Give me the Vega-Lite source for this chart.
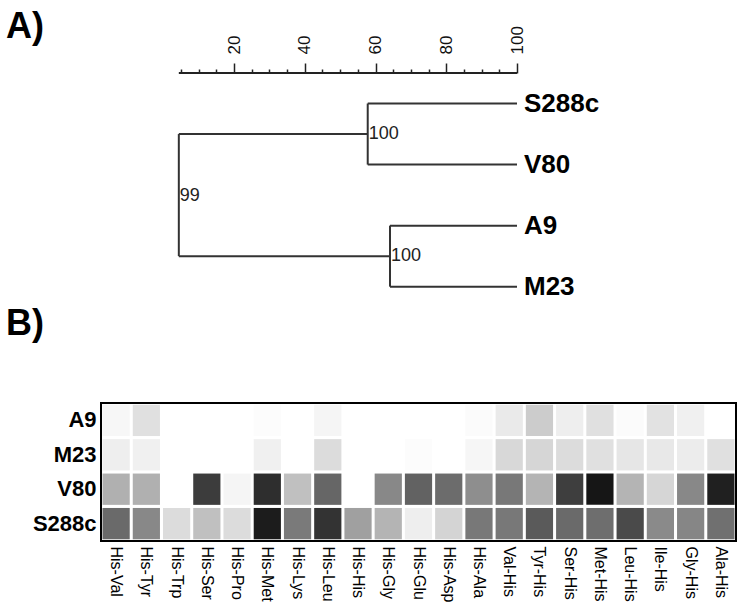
{
  "$schema": "https://vega.github.io/schema/vega-lite/v6.json",
  "background": "white",
  "padding": {"left": 5, "top": 8, "right": 5, "bottom": 5},
  "config": {"font": "Liberation Sans", "view": {"stroke": null}},
  "datasets": {
    "branches": [
      {"x": 4.4, "x2": 4.4, "y": 1.5, "y2": 3.5},
      {"x": 4.4, "x2": 57.8, "y": 1.5, "y2": 1.5},
      {"x": 4.4, "x2": 64.1, "y": 3.5, "y2": 3.5},
      {"x": 57.8, "x2": 57.8, "y": 1, "y2": 2},
      {"x": 57.8, "x2": 100, "y": 1, "y2": 1},
      {"x": 57.8, "x2": 100, "y": 2, "y2": 2},
      {"x": 64.1, "x2": 64.1, "y": 3, "y2": 4},
      {"x": 64.1, "x2": 100, "y": 3, "y2": 3},
      {"x": 64.1, "x2": 100, "y": 4, "y2": 4}
    ],
    "nodes": [
      {"label": "100", "x": 57.8, "y": 1.5},
      {"label": "99", "x": 4.4, "y": 2.52},
      {"label": "100", "x": 64.1, "y": 3.5}
    ],
    "leaves": [
      {"name": "S288c", "y": 1},
      {"name": "V80", "y": 2},
      {"name": "A9", "y": 3},
      {"name": "M23", "y": 4}
    ],
    "heat": [
      {"strain": "A9", "pair": "His-Val", "value": 8},
      {"strain": "A9", "pair": "His-Tyr", "value": 31},
      {"strain": "A9", "pair": "His-Trp", "value": 0},
      {"strain": "A9", "pair": "His-Ser", "value": 0},
      {"strain": "A9", "pair": "His-Pro", "value": 0},
      {"strain": "A9", "pair": "His-Met", "value": 3},
      {"strain": "A9", "pair": "His-Lys", "value": 0},
      {"strain": "A9", "pair": "His-Leu", "value": 10},
      {"strain": "A9", "pair": "His-His", "value": 0},
      {"strain": "A9", "pair": "His-Gly", "value": 0},
      {"strain": "A9", "pair": "His-Glu", "value": 0},
      {"strain": "A9", "pair": "His-Asp", "value": 0},
      {"strain": "A9", "pair": "His-Ala", "value": 4},
      {"strain": "A9", "pair": "Val-His", "value": 21},
      {"strain": "A9", "pair": "Tyr-His", "value": 51},
      {"strain": "A9", "pair": "Ser-His", "value": 17},
      {"strain": "A9", "pair": "Met-His", "value": 31},
      {"strain": "A9", "pair": "Leu-His", "value": 4},
      {"strain": "A9", "pair": "Ile-His", "value": 29},
      {"strain": "A9", "pair": "Gly-His", "value": 15},
      {"strain": "A9", "pair": "Ala-His", "value": 0},
      {"strain": "M23", "pair": "His-Val", "value": 17},
      {"strain": "M23", "pair": "His-Tyr", "value": 15},
      {"strain": "M23", "pair": "His-Trp", "value": 0},
      {"strain": "M23", "pair": "His-Ser", "value": 0},
      {"strain": "M23", "pair": "His-Pro", "value": 0},
      {"strain": "M23", "pair": "His-Met", "value": 15},
      {"strain": "M23", "pair": "His-Lys", "value": 0},
      {"strain": "M23", "pair": "His-Leu", "value": 35},
      {"strain": "M23", "pair": "His-His", "value": 0},
      {"strain": "M23", "pair": "His-Gly", "value": 0},
      {"strain": "M23", "pair": "His-Glu", "value": 3},
      {"strain": "M23", "pair": "His-Asp", "value": 0},
      {"strain": "M23", "pair": "His-Ala", "value": 9},
      {"strain": "M23", "pair": "Val-His", "value": 39},
      {"strain": "M23", "pair": "Tyr-His", "value": 41},
      {"strain": "M23", "pair": "Ser-His", "value": 35},
      {"strain": "M23", "pair": "Met-His", "value": 31},
      {"strain": "M23", "pair": "Leu-His", "value": 25},
      {"strain": "M23", "pair": "Ile-His", "value": 23},
      {"strain": "M23", "pair": "Gly-His", "value": 19},
      {"strain": "M23", "pair": "Ala-His", "value": 31},
      {"strain": "V80", "pair": "His-Val", "value": 79},
      {"strain": "V80", "pair": "His-Tyr", "value": 79},
      {"strain": "V80", "pair": "His-Trp", "value": 0},
      {"strain": "V80", "pair": "His-Ser", "value": 195},
      {"strain": "V80", "pair": "His-Pro", "value": 10},
      {"strain": "V80", "pair": "His-Met", "value": 209},
      {"strain": "V80", "pair": "His-Lys", "value": 63},
      {"strain": "V80", "pair": "His-Leu", "value": 153},
      {"strain": "V80", "pair": "His-His", "value": 0},
      {"strain": "V80", "pair": "His-Gly", "value": 119},
      {"strain": "V80", "pair": "His-Glu", "value": 157},
      {"strain": "V80", "pair": "His-Asp", "value": 147},
      {"strain": "V80", "pair": "His-Ala", "value": 113},
      {"strain": "V80", "pair": "Val-His", "value": 135},
      {"strain": "V80", "pair": "Tyr-His", "value": 75},
      {"strain": "V80", "pair": "Ser-His", "value": 193},
      {"strain": "V80", "pair": "Met-His", "value": 233},
      {"strain": "V80", "pair": "Leu-His", "value": 75},
      {"strain": "V80", "pair": "Ile-His", "value": 41},
      {"strain": "V80", "pair": "Gly-His", "value": 119},
      {"strain": "V80", "pair": "Ala-His", "value": 223},
      {"strain": "S288c", "pair": "His-Val", "value": 149},
      {"strain": "S288c", "pair": "His-Tyr", "value": 119},
      {"strain": "S288c", "pair": "His-Trp", "value": 35},
      {"strain": "S288c", "pair": "His-Ser", "value": 63},
      {"strain": "S288c", "pair": "His-Pro", "value": 35},
      {"strain": "S288c", "pair": "His-Met", "value": 227},
      {"strain": "S288c", "pair": "His-Lys", "value": 133},
      {"strain": "S288c", "pair": "His-Leu", "value": 204},
      {"strain": "S288c", "pair": "His-His", "value": 95},
      {"strain": "S288c", "pair": "His-Gly", "value": 75},
      {"strain": "S288c", "pair": "His-Glu", "value": 17},
      {"strain": "S288c", "pair": "His-Asp", "value": 43},
      {"strain": "S288c", "pair": "His-Ala", "value": 135},
      {"strain": "S288c", "pair": "Val-His", "value": 135},
      {"strain": "S288c", "pair": "Tyr-His", "value": 165},
      {"strain": "S288c", "pair": "Ser-His", "value": 149},
      {"strain": "S288c", "pair": "Met-His", "value": 145},
      {"strain": "S288c", "pair": "Leu-His", "value": 181},
      {"strain": "S288c", "pair": "Ile-His", "value": 117},
      {"strain": "S288c", "pair": "Gly-His", "value": 121},
      {"strain": "S288c", "pair": "Ala-His", "value": 143}
    ]
  },
  "spacing": 0,
  "vconcat": [
    {
      "width": 416,
      "height": 232,
      "title": {"text": "A)", "anchor": "start", "frame": "group", "dx": -95, "offset": -20, "fontSize": 36, "fontWeight": "bold", "color": "black"},
      "resolve": {"axis": {"x": "independent"}},
      "layer": [
        {
          "data": {"name": "branches"},
          "mark": {"type": "rule", "stroke": "#333", "strokeWidth": 2},
          "encoding": {
            "x": {
              "field": "x", "type": "quantitative",
              "scale": {"domain": [-17.6, 100], "nice": false, "zero": false},
              "axis": {
                "orient": "top", "title": null, "grid": false, "domain": false,
                "values": [5, 10, 15, 25, 30, 35, 45, 50, 55, 65, 70, 75, 85, 90, 95],
                "tickColor": "#222", "tickWidth": 1.5, "tickSize": 4, "labels": false
              }
            },
            "x2": {"field": "x2"},
            "y": {"field": "y", "type": "quantitative", "scale": {"domain": [0.5, 4.3], "nice": false, "zero": false, "reverse": true}, "axis": null},
            "y2": {"field": "y2"}
          }
        },
        {
          "data": {"values": [{}]},
          "mark": {"type": "rule", "stroke": "#222", "strokeWidth": 2},
          "encoding": {
            "x": {
              "datum": 4.4, "type": "quantitative",
              "axis": {
                "orient": "top", "title": null, "grid": false, "domain": false,
                "values": [20, 40, 60, 80, 100],
                "tickColor": "#222", "tickWidth": 1.5, "tickSize": 10,
                "labelAngle": 270, "labelFontSize": 17, "labelColor": "#111",
                "labelPadding": 9, "labelOverlap": false, "labelFlush": false, "labelBound": false
              }
            },
            "x2": {"datum": 100},
            "y": {"datum": 0.5, "type": "quantitative"}
          }
        },
        {
          "data": {"name": "nodes"},
          "mark": {"type": "text", "align": "left", "baseline": "middle", "dx": 1, "fontSize": 18, "color": "#222"},
          "encoding": {
            "x": {"field": "x", "type": "quantitative", "axis": null},
            "y": {"field": "y", "type": "quantitative"},
            "text": {"field": "label"}
          }
        },
        {
          "data": {"name": "leaves"},
          "mark": {"type": "text", "align": "left", "baseline": "middle", "dx": 7, "fontSize": 26, "fontWeight": "bold", "color": "black"},
          "encoding": {
            "x": {"datum": 100, "type": "quantitative", "axis": null},
            "y": {"field": "y", "type": "quantitative"},
            "text": {"field": "name"}
          }
        }
      ]
    },
    {
      "width": 635,
      "height": 138,
      "data": {"name": "heat"},
      "title": {"text": "B)", "anchor": "start", "frame": "group", "dx": -95, "offset": 60, "fontSize": 36, "fontWeight": "bold", "color": "black"},
      "view": {"stroke": "black", "strokeWidth": 2},
      "mark": {"type": "rect"},
      "encoding": {
        "x": {
          "field": "pair", "type": "nominal",
          "sort": ["His-Val", "His-Tyr", "His-Trp", "His-Ser", "His-Pro", "His-Met", "His-Lys", "His-Leu", "His-His", "His-Gly", "His-Glu", "His-Asp", "His-Ala", "Val-His", "Tyr-His", "Ser-His", "Met-His", "Leu-His", "Ile-His", "Gly-His", "Ala-His"],
          "scale": {"paddingInner": 0.1, "paddingOuter": 0.05},
          "axis": {"orient": "bottom", "title": null, "ticks": false, "domain": false, "labelAngle": 90, "labelFontSize": 16, "labelPadding": 5, "labelColor": "black"}
        },
        "y": {
          "field": "strain", "type": "nominal",
          "sort": ["A9", "M23", "V80", "S288c"],
          "scale": {"paddingInner": 0.09, "paddingOuter": 0.05},
          "axis": {"title": null, "ticks": false, "domain": false, "labelFontSize": 22, "labelFontWeight": "bold", "labelPadding": 5, "labelColor": "black"}
        },
        "color": {
          "field": "value", "type": "quantitative",
          "scale": {"domain": [0, 255], "range": ["#ffffff", "#000000"], "interpolate": "rgb"},
          "legend": null
        }
      }
    }
  ]
}
